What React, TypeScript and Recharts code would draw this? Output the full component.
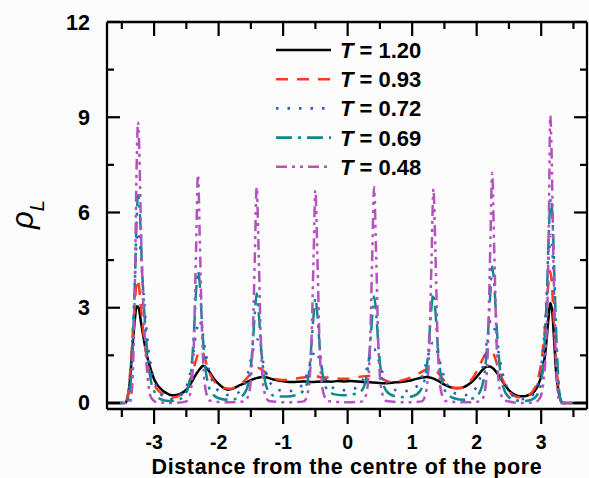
import React from 'react';
import { LineChart, Line, XAxis, YAxis } from 'recharts';

const X_DOMAIN: [number, number] = [-3.73, 3.71];
const Y_DOMAIN: [number, number] = [-0.19, 12];
const X_TICKS = [-3.5, -3, -2.5, -2, -1.5, -1, -0.5, 0, 0.5, 1, 1.5, 2, 2.5, 3, 3.5];
const X_LABELS = [-3, -2, -1, 0, 1, 2, 3];
const Y_TICKS = [0, 1.5, 3, 4.5, 6, 7.5, 9, 10.5, 12];
const Y_LABELS = [0, 3, 6, 9, 12];
const X_TITLE = 'Distance from the centre of the pore';

// [distance, rho_L]
const T120: [number, number][] = [
  [-3.73, 0], [-3.45, 0], [-3.42, 0.1], [-3.38, 0.6], [-3.34, 1.6], [-3.3, 2.6], [-3.27, 3.05], [-3.24, 3.0],
  [-3.2, 2.5], [-3.15, 1.9], [-3.1, 1.4], [-3.05, 1.05], [-3.0, 0.75], [-2.95, 0.57], [-2.9, 0.45], [-2.85, 0.36],
  [-2.8, 0.3], [-2.72, 0.24], [-2.65, 0.25], [-2.58, 0.3], [-2.5, 0.42], [-2.42, 0.65], [-2.35, 0.9], [-2.28, 1.1],
  [-2.24, 1.17], [-2.2, 1.12], [-2.14, 0.98], [-2.08, 0.78], [-2.0, 0.6], [-1.92, 0.47], [-1.85, 0.42], [-1.78, 0.45],
  [-1.7, 0.53], [-1.6, 0.62], [-1.5, 0.72], [-1.4, 0.79], [-1.32, 0.82], [-1.25, 0.8], [-1.15, 0.74], [-1.05, 0.7],
  [-0.95, 0.67], [-0.85, 0.66], [-0.75, 0.67], [-0.65, 0.68], [-0.55, 0.66], [-0.45, 0.67], [-0.35, 0.68], [-0.25, 0.67],
  [-0.15, 0.69], [-0.05, 0.68], [0.05, 0.69], [0.15, 0.68], [0.25, 0.66], [0.35, 0.65], [0.45, 0.64], [0.55, 0.62],
  [0.65, 0.63], [0.75, 0.65], [0.85, 0.67], [0.95, 0.7], [1.05, 0.75], [1.15, 0.8], [1.22, 0.82], [1.3, 0.79],
  [1.4, 0.7], [1.5, 0.58], [1.6, 0.49], [1.7, 0.46], [1.8, 0.5], [1.9, 0.62], [2.0, 0.82], [2.08, 1.02],
  [2.15, 1.14], [2.2, 1.15], [2.26, 1.08], [2.34, 0.88], [2.42, 0.62], [2.5, 0.4], [2.58, 0.27], [2.66, 0.21],
  [2.74, 0.21], [2.82, 0.26], [2.9, 0.38], [2.96, 0.6], [3.02, 1.0], [3.07, 1.7], [3.11, 2.6], [3.14, 3.15],
  [3.17, 2.9], [3.2, 2.0], [3.23, 1.0], [3.27, 0.35], [3.31, 0.05], [3.34, 0], [3.71, 0],
];

const T093: [number, number][] = [
  [-3.73, 0], [-3.45, 0], [-3.41, 0.2], [-3.37, 1.0], [-3.33, 2.2], [-3.29, 3.4], [-3.26, 3.9], [-3.23, 3.6],
  [-3.19, 2.7], [-3.14, 1.8], [-3.09, 1.15], [-3.03, 0.7], [-2.96, 0.45], [-2.88, 0.3], [-2.8, 0.2], [-2.72, 0.17],
  [-2.64, 0.2], [-2.56, 0.3], [-2.48, 0.5], [-2.41, 0.9], [-2.35, 1.35], [-2.3, 1.62], [-2.26, 1.65], [-2.22, 1.45],
  [-2.17, 1.1], [-2.1, 0.78], [-2.02, 0.58], [-1.92, 0.47], [-1.82, 0.45], [-1.72, 0.52], [-1.62, 0.66], [-1.53, 0.85],
  [-1.45, 1.02], [-1.39, 1.1], [-1.33, 1.05], [-1.26, 0.92], [-1.18, 0.8], [-1.08, 0.74], [-0.95, 0.72], [-0.82, 0.76],
  [-0.7, 0.8], [-0.6, 0.82], [-0.5, 0.85], [-0.4, 0.8], [-0.3, 0.8], [-0.2, 0.78], [-0.1, 0.76], [0, 0.76],
  [0.1, 0.8], [0.2, 0.83], [0.3, 0.85], [0.42, 0.85], [0.52, 0.78], [0.62, 0.68], [0.72, 0.66], [0.82, 0.7],
  [0.92, 0.76], [1.02, 0.84], [1.12, 0.95], [1.22, 1.06], [1.3, 1.1], [1.37, 1.02], [1.45, 0.82], [1.55, 0.6],
  [1.65, 0.48], [1.75, 0.48], [1.85, 0.58], [1.95, 0.82], [2.05, 1.2], [2.13, 1.52], [2.2, 1.65], [2.26, 1.55],
  [2.32, 1.2], [2.4, 0.75], [2.48, 0.42], [2.56, 0.25], [2.64, 0.18], [2.72, 0.18], [2.8, 0.24], [2.88, 0.4],
  [2.95, 0.75], [3.01, 1.4], [3.06, 2.4], [3.1, 3.5], [3.14, 4.15], [3.17, 3.6], [3.2, 2.4], [3.24, 1.1],
  [3.28, 0.3], [3.32, 0], [3.71, 0],
];

const T072: [number, number][] = [
  [-3.73, 0], [-3.43, 0], [-3.39, 0.4], [-3.35, 1.5], [-3.31, 3.2], [-3.28, 4.8], [-3.25, 5.4], [-3.22, 5.0],
  [-3.18, 3.9], [-3.13, 2.6], [-3.08, 1.6], [-3.02, 0.9], [-2.95, 0.45], [-2.87, 0.22], [-2.78, 0.12], [-2.68, 0.13],
  [-2.58, 0.25], [-2.5, 0.5], [-2.44, 0.95], [-2.39, 1.6], [-2.34, 2.3], [-2.3, 2.6], [-2.26, 2.35], [-2.21, 1.7],
  [-2.15, 1.05], [-2.08, 0.6], [-1.98, 0.35], [-1.85, 0.25], [-1.72, 0.3], [-1.62, 0.5], [-1.55, 0.9], [-1.49, 1.45],
  [-1.44, 1.85], [-1.4, 2.0], [-1.36, 1.8], [-1.31, 1.3], [-1.25, 0.85], [-1.17, 0.55], [-1.05, 0.4], [-0.9, 0.38],
  [-0.77, 0.45], [-0.67, 0.7], [-0.6, 1.1], [-0.54, 1.5], [-0.5, 1.65], [-0.46, 1.5], [-0.4, 1.1], [-0.33, 0.7],
  [-0.23, 0.48], [-0.1, 0.4], [0.05, 0.42], [0.17, 0.55], [0.26, 0.85], [0.32, 1.25], [0.37, 1.6], [0.41, 1.7],
  [0.45, 1.55], [0.51, 1.15], [0.58, 0.75], [0.68, 0.48], [0.8, 0.38], [0.93, 0.38], [1.05, 0.48], [1.14, 0.75],
  [1.21, 1.2], [1.27, 1.65], [1.32, 1.9], [1.37, 1.75], [1.43, 1.3], [1.5, 0.8], [1.58, 0.45], [1.7, 0.28],
  [1.83, 0.25], [1.95, 0.38], [2.04, 0.7], [2.11, 1.3], [2.17, 2.1], [2.22, 2.6], [2.27, 2.4], [2.33, 1.7],
  [2.4, 0.95], [2.48, 0.45], [2.58, 0.2], [2.7, 0.12], [2.8, 0.14], [2.9, 0.35], [2.97, 0.8], [3.03, 1.7],
  [3.08, 3.2], [3.12, 4.7], [3.15, 5.3], [3.18, 4.5], [3.21, 2.8], [3.25, 1.1], [3.29, 0.25], [3.32, 0], [3.71, 0],
];

const T069: [number, number][] = [
  [-3.73, 0], [-3.42, 0], [-3.38, 0.3], [-3.34, 1.4], [-3.3, 3.6], [-3.27, 5.8], [-3.25, 6.55], [-3.22, 6.0],
  [-3.19, 4.4], [-3.15, 2.8], [-3.1, 1.5], [-3.05, 0.7], [-2.98, 0.3], [-2.9, 0.12], [-2.78, 0.06], [-2.65, 0.08],
  [-2.55, 0.2], [-2.47, 0.5], [-2.42, 1.1], [-2.38, 2.3], [-2.35, 3.5], [-2.32, 4.15], [-2.29, 3.7], [-2.26, 2.6],
  [-2.22, 1.4], [-2.17, 0.65], [-2.1, 0.3], [-2.0, 0.15], [-1.85, 0.1], [-1.7, 0.15], [-1.6, 0.3], [-1.53, 0.7],
  [-1.48, 1.6], [-1.44, 2.8], [-1.41, 3.45], [-1.38, 2.9], [-1.34, 1.7], [-1.29, 0.8], [-1.22, 0.35], [-1.1, 0.2],
  [-0.95, 0.2], [-0.8, 0.25], [-0.68, 0.4], [-0.61, 0.8], [-0.57, 1.6], [-0.53, 2.7], [-0.5, 3.3], [-0.47, 2.8],
  [-0.43, 1.7], [-0.38, 0.8], [-0.31, 0.4], [-0.2, 0.27], [-0.05, 0.24], [0.1, 0.28], [0.22, 0.4], [0.29, 0.8],
  [0.34, 1.6], [0.38, 2.7], [0.41, 3.35], [0.44, 2.9], [0.48, 1.7], [0.53, 0.8], [0.6, 0.38], [0.72, 0.22],
  [0.88, 0.18], [1.02, 0.22], [1.13, 0.4], [1.2, 0.8], [1.25, 1.6], [1.29, 2.8], [1.33, 3.45], [1.36, 2.9],
  [1.4, 1.7], [1.45, 0.8], [1.52, 0.35], [1.65, 0.15], [1.8, 0.1], [1.95, 0.15], [2.05, 0.35], [2.12, 0.9],
  [2.17, 2.0], [2.21, 3.4], [2.24, 4.3], [2.27, 3.8], [2.31, 2.4], [2.36, 1.1], [2.42, 0.45], [2.5, 0.18],
  [2.62, 0.08], [2.75, 0.06], [2.87, 0.12], [2.95, 0.3], [3.01, 0.8], [3.05, 1.8], [3.09, 3.5], [3.12, 5.5],
  [3.15, 6.45], [3.18, 5.6], [3.21, 3.6], [3.24, 1.8], [3.27, 0.6], [3.3, 0.1], [3.33, 0], [3.71, 0],
];

const T048: [number, number][] = [
  [-3.73, 0], [-3.38, 0], [-3.34, 0.5], [-3.3, 3.5], [-3.27, 7.5], [-3.25, 8.85], [-3.23, 8.0], [-3.2, 5.2],
  [-3.17, 3.2], [-3.13, 1.6], [-3.09, 0.6], [-3.04, 0.15], [-2.95, 0.02], [-2.7, 0.0], [-2.5, 0.05], [-2.44, 0.3],
  [-2.39, 1.5], [-2.35, 4.8], [-2.32, 7.2], [-2.29, 5.0], [-2.25, 1.8], [-2.2, 0.4], [-2.14, 0.08], [-1.9, 0.02],
  [-1.6, 0.05], [-1.53, 0.3], [-1.48, 1.4], [-1.44, 4.5], [-1.41, 6.8], [-1.38, 4.8], [-1.34, 1.6], [-1.29, 0.35],
  [-1.22, 0.06], [-0.9, 0.02], [-0.68, 0.05], [-0.62, 0.3], [-0.57, 1.4], [-0.53, 4.4], [-0.5, 6.7], [-0.47, 4.7],
  [-0.43, 1.5], [-0.38, 0.35], [-0.31, 0.06], [0.0, 0.02], [0.23, 0.05], [0.29, 0.3], [0.34, 1.4], [0.38, 4.5],
  [0.41, 6.8], [0.44, 4.8], [0.48, 1.6], [0.53, 0.35], [0.6, 0.06], [0.9, 0.02], [1.15, 0.05], [1.21, 0.3],
  [1.26, 1.4], [1.3, 4.5], [1.33, 6.75], [1.36, 4.8], [1.4, 1.6], [1.45, 0.35], [1.52, 0.06], [1.8, 0.02],
  [2.06, 0.05], [2.12, 0.3], [2.17, 1.5], [2.21, 4.8], [2.24, 7.25], [2.27, 5.0], [2.31, 1.8], [2.36, 0.4],
  [2.43, 0.08], [2.7, 0.0], [2.9, 0.02], [2.98, 0.15], [3.03, 0.6], [3.07, 1.6], [3.1, 3.4], [3.12, 6.0],
  [3.14, 9.05], [3.16, 8.0], [3.19, 4.5], [3.22, 1.8], [3.25, 0.5], [3.28, 0.05], [3.31, 0], [3.71, 0],
];

const SERIES_NAMES = ['1.20', '0.93', '0.72', '0.69', '0.48'];
const SERIES_DATA = [T120, T093, T072, T069, T048];
const SERIES_COLORS = ['#000000', '#ff3a1e', '#2f56d6', '#0e8a8a', '#b552bf'];
const SERIES_DASH = [undefined, '12 9', '2.5 9', '16 6 3 6', '11 5 3 5 3 5'];

const FONT = '"Liberation Sans", Arial, Helvetica, sans-serif';
const AXIS_STROKE = { stroke: '#000', strokeWidth: 2.3 };

const toPoints = (arr: [number, number][]) => arr.map(([x, y]) => ({ x, y }));

const BottomTick = (p: any) => {
  const v = p.payload.value;
  const major = X_LABELS.includes(v);
  return (
    <g>
      <line x1={p.x} x2={p.x} y1={p.y} y2={p.y + (major ? 15 : 8)} stroke="#000" strokeWidth={2.2} />
      {major && (
        <text x={p.x} y={p.y + 40} textAnchor="middle" fontFamily={FONT} fontWeight="bold" fontSize={19.5} fill="#000">
          {String(v)}
        </text>
      )}
    </g>
  );
};

const TopTick = (p: any) => {
  const major = X_LABELS.includes(p.payload.value);
  return <line x1={p.x} x2={p.x} y1={p.y} y2={p.y + (major ? 14 : 7)} stroke="#000" strokeWidth={2.2} />;
};

const LeftTick = (p: any) => {
  const v = p.payload.value;
  const major = Y_LABELS.includes(v);
  return (
    <g>
      <line x1={p.x} x2={p.x + (major ? 13 : 7)} y1={p.y} y2={p.y} stroke="#000" strokeWidth={2.2} />
      {major && (
        <text x={p.x - 17} y={p.y + 7.5} textAnchor="end" fontFamily={FONT} fontWeight="bold" fontSize={21.5} fill="#000">
          {String(v)}
        </text>
      )}
    </g>
  );
};

const RightTick = (p: any) => {
  const major = Y_LABELS.includes(p.payload.value);
  return <line x1={p.x} x2={p.x - (major ? 13 : 7)} y1={p.y} y2={p.y} stroke="#000" strokeWidth={2.2} />;
};

const XTitle = (p: any) => {
  const vb = p.viewBox || { x: 107, y: 409, width: 480, height: 69 };
  return (
    <text
      x={vb.x + vb.width / 2}
      y={vb.y + 64.5}
      textAnchor="middle"
      fontFamily={FONT}
      fontWeight="bold"
      fontSize={21.5}
      letterSpacing={0.6}
      fill="#000"
    >
      {X_TITLE}
    </text>
  );
};

const YTitle = (p: any) => {
  const vb = p.viewBox || { x: 0, y: 22, width: 107, height: 387 };
  const cx = vb.x + 33;
  const cy = 229;
  return (
    <text x={cx} y={cy} transform={`rotate(-90 ${cx} ${cy})`} fontFamily={FONT} fill="#000">
      <tspan fontStyle="italic" fontSize={31}>ρ</tspan>
      <tspan fontStyle="italic" fontSize={20} dy={11}>L</tspan>
    </text>
  );
};

const LegendBox = () => (
  <svg width={180} height={150} style={{ position: 'absolute', left: 270, top: 36, pointerEvents: 'none' }}>
    {SERIES_NAMES.map((n, i) => {
      const y = 14 + i * 29.2;
      return (
        <g key={n}>
          <line x1={6} x2={61} y1={y} y2={y} stroke={SERIES_COLORS[i]} strokeWidth={2.6} strokeDasharray={SERIES_DASH[i]} />
          <text x={70} y={y + 8} fontFamily={FONT} fontWeight="bold" fontSize={22} fill="#000">
            <tspan fontStyle="italic">T</tspan>
            {' = ' + n}
          </text>
        </g>
      );
    })}
  </svg>
);

export default function App() {
  return (
    <div style={{ position: 'absolute', left: 0, top: 0, width: 589, height: 478, background: '#fcfcfd' }}>
      <LineChart width={589} height={478} margin={{ top: 21, right: 1, bottom: 0, left: 0 }}>
        <XAxis
          xAxisId="b"
          dataKey="x"
          type="number"
          domain={X_DOMAIN}
          ticks={X_TICKS}
          interval={0}
          tickSize={0}
          tickMargin={0}
          tickLine={false}
          tick={(p: any) => <BottomTick {...p} />}
          axisLine={AXIS_STROKE}
          height={69}
          allowDataOverflow
          label={{ content: (p: any) => <XTitle {...p} /> }}
        />
        <XAxis
          xAxisId="t"
          orientation="top"
          dataKey="x"
          type="number"
          domain={X_DOMAIN}
          ticks={X_TICKS}
          interval={0}
          tickSize={0}
          tickMargin={0}
          tickLine={false}
          tick={(p: any) => <TopTick {...p} />}
          axisLine={AXIS_STROKE}
          height={1}
          allowDataOverflow
        />
        <YAxis
          yAxisId="l"
          type="number"
          domain={Y_DOMAIN}
          ticks={Y_TICKS}
          interval={0}
          tickSize={0}
          tickMargin={0}
          tickLine={false}
          tick={(p: any) => <LeftTick {...p} />}
          axisLine={AXIS_STROKE}
          width={107}
          allowDataOverflow
          label={{ content: (p: any) => <YTitle {...p} /> }}
        />
        <YAxis
          yAxisId="r"
          orientation="right"
          type="number"
          domain={Y_DOMAIN}
          ticks={Y_TICKS}
          interval={0}
          tickSize={0}
          tickMargin={0}
          tickLine={false}
          tick={(p: any) => <RightTick {...p} />}
          axisLine={AXIS_STROKE}
          width={1}
          allowDataOverflow
        />
        {SERIES_NAMES.map((n, i) => (
          <Line
            key={n}
            xAxisId="b"
            yAxisId="l"
            data={toPoints(SERIES_DATA[i])}
            dataKey="y"
            name={'T = ' + n}
            type="monotone"
            stroke={SERIES_COLORS[i]}
            strokeWidth={2.5}
            strokeDasharray={SERIES_DASH[i]}
            dot={false}
            activeDot={false}
            isAnimationActive={false}
          />
        ))}
      </LineChart>
      <LegendBox />
    </div>
  );
}
